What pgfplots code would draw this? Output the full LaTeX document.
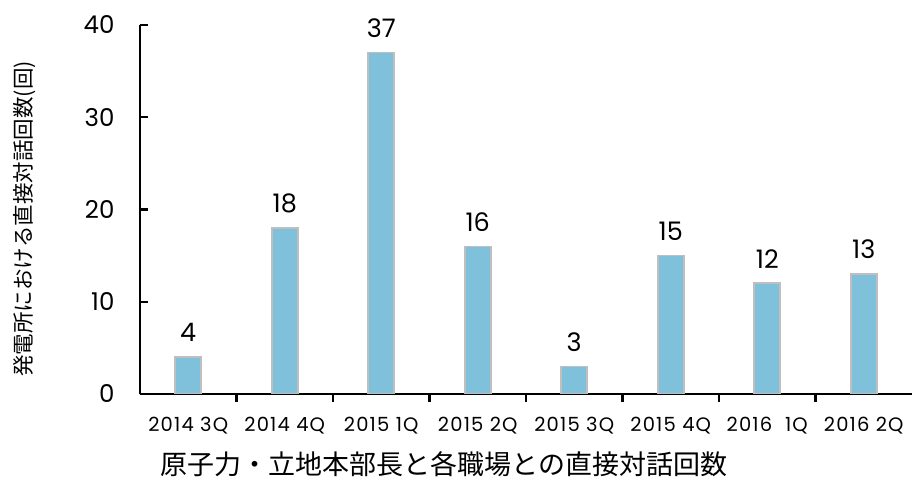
\documentclass[border=0pt]{standalone}
\usepackage{fontspec}
\setmainfont{Poppins}
\newfontfamily\tickfont[LetterSpace=6]{Poppins}
\newfontfamily\cjk{Noto Sans CJK JP}
\usepackage{pgfplots}
\pgfplotsset{compat=1.18}
\definecolor{barblue}{HTML}{7FC0DB}
\definecolor{bargray}{HTML}{BFBFBF}
\begin{document}
\begin{tikzpicture}
\begin{axis}[
  scale only axis, width=772pt, height=369pt,
  xmin=-0.5, xmax=7.5, ymin=0, ymax=40,
  axis lines*=left,
  axis line style={line width=2.8pt, black},
  /pgf/number format/assume math mode=true,
  ytick={0,10,20,30,40},
  tick align=inside,
  major tick length=8pt,
  tick style={line width=2.2pt, black},
  xtick={0.5,1.5,...,6.5},
  xticklabels={},
  extra x ticks={0,1,2,3,4,5,6,7},
  extra x tick labels={2014 3Q,2014 4Q,2015 1Q,2015 2Q,2015 3Q,2015 4Q,2016 \ 1Q,\raisebox{5pt}{2016 2Q}},
  extra x tick style={major tick length=0pt},
  xticklabel style={font=\tickfont\fontsize{19.5}{19.5}\selectfont, yshift=-20pt},
  yticklabel style={font=\fontsize{24.5}{24.5}\selectfont, xshift=-22pt},
  ybar, bar width=26pt,
  nodes near coords,
  every node near coord/.append style={font=\fontsize{25.5}{25.5}\selectfont, yshift=11pt},
]
\addplot[fill=barblue, draw=bargray, line width=1.6pt] coordinates {
  (0,4) (1,18) (2,37) (3,16) (4,3) (5,15) (6,12) (7,13)
};
\end{axis}
\node[font=\cjk\fontsize{27}{27}\selectfont] at (304pt,-70pt) {原子力・立地本部長と各職場との直接対話回数};
\node[font=\cjk\fontsize{21.5}{21.5}\selectfont, rotate=90] at (-115pt,175pt) {発電所における直接対話回数(回)};
\pgfresetboundingbox
\path (-140pt,-87pt) rectangle (772pt,394pt);
\end{tikzpicture}
\end{document}
